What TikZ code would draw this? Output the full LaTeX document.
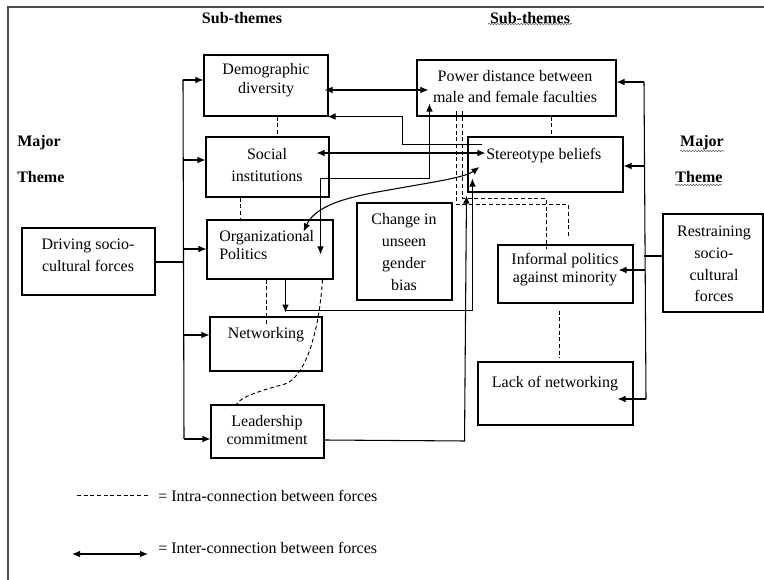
\documentclass[tikz,border=0pt]{standalone}
\usepackage{fontspec}
\setmainfont{Liberation Serif}
\usetikzlibrary{arrows.meta,fit,calc,decorations.pathmorphing}
\begin{document}
\begin{tikzpicture}[x=0.75pt,y=-0.75pt,
  box/.style={draw,line width=0.8pt,inner sep=0pt},
  txt/.style={align=center,inner sep=0pt,font=\fontsize{12pt}{14pt}\selectfont},
  head/.style={inner sep=0pt,font=\fontsize{12pt}{14pt}\selectfont\bfseries},
  conn/.style={line width=0.8pt},
  arr/.style={conn,-{Latex[length=6pt,width=5pt]}},
  darr/.style={conn,{Latex[length=6pt,width=5pt]}-{Latex[length=6pt,width=5pt]}},
  intra/.style={line width=0.7pt,dash pattern=on 3pt off 2pt},
  squig/.style={decorate,decoration={snake,amplitude=0.5pt,segment length=2.2pt},line width=0.4pt,gray!70!black}
]
\useasboundingbox (0,0) rectangle (764,580);
\fill[white] (0,0) rectangle (764,580);
% frame
\draw[line width=1pt,gray!60!black] (8,580) -- (8,7) -- (764,7);

% headings
\node[head] (sub1) at (242,18) {Sub-themes};
\node[head] (sub2) at (530,18) {Sub-themes};
\draw[squig] (488,24) -- (572,24);
\node[head,anchor=west] (maj1) at (17,143) {Major};
\node[head,anchor=west] (thm1) at (17,177) {Theme};
\node[head] (maj2) at (702,143) {Major};
\node[head] (thm2) at (699,177) {Theme};
\draw[squig] (680,151) -- (724,151);
\draw[squig] (675,185) -- (722,185);

% boxes
\node[box,fit={(204,55) (328,116)}] (dem) {};
\node[txt,font=\fontsize{12pt}{14.3pt}\selectfont] (demT) at (266,80) {Demographic\\diversity};
\node[box,fit={(206,137) (329,197)}] (soc) {};
\node[txt,font=\fontsize{12pt}{17pt}\selectfont] (socT) at (267,165) {Social\\institutions};
\node[box,fit={(207,220) (333,279)}] (op) {};
\node[txt,align=left,anchor=west,font=\fontsize{12pt}{13pt}\selectfont] (opT) at (219,245) {Organizational\\Politics};
\node[box,fit={(210,317) (322,371)}] (net) {};
\node[txt] (netT) at (266,335) {Networking};
\node[box,fit={(211,405) (324,458)}] (lead) {};
\node[txt,font=\fontsize{12pt}{13.5pt}\selectfont] (leadT) at (267,430) {Leadership\\commitment};
\node[box,fit={(22,228) (155,295)}] (drv) {};
\node[txt,font=\fontsize{12pt}{16.5pt}\selectfont] (drvT) at (88,255) {Driving socio-\\cultural forces};
\node[box,fit={(357,203) (452,300)}] (chg) {};
\node[txt,font=\fontsize{12pt}{16.3pt}\selectfont] (chgT) at (404,252) {Change in\\unseen\\gender\\bias};
\node[box,fit={(417,60) (616,116)}] (pow) {};
\node[txt,font=\fontsize{12pt}{15.75pt}\selectfont] (powT) at (515,87) {Power distance between\\male and female faculties};
\node[box,fit={(468,137) (623,192)}] (ste) {};
\node[txt,anchor=west] (steT) at (486,156) {Stereotype beliefs};
\node[box,fit={(498,245) (633,303)}] (inf) {};
\node[txt,font=\fontsize{12pt}{13.5pt}\selectfont] (infT) at (565,270) {Informal politics\\against minority};
\node[box,fit={(478,362) (633,425)}] (lack) {};
\node[txt] (lackT) at (555,384) {Lack of networking};
\node[box,fit={(663,214) (763,312)}] (res) {};
\node[txt,font=\fontsize{12pt}{16.3pt}\selectfont] (resT) at (714,264) {Restraining\\socio-\\cultural\\forces};

% left trunk
\coordinate (t1) at (183,80);
\coordinate (t2) at (183,160);
\coordinate (t3) at (183,249);
\coordinate (t4) at (184,335);
\coordinate (t5) at (184,439);
\coordinate (tj) at (183,262);
\draw[conn] (t1) -- (t5);
\draw[conn] (drv.east |- tj) -- (tj);
\draw[arr] (t1) -- (dem.west |- t1);
\draw[arr] (t2) -- (soc.west |- t2);
\draw[arr] (t3) -- (op.west |- t3);
\draw[arr] (t4) -- (net.west |- t4);
\draw[arr] (t5) -- (lead.west |- t5);

% right trunk
\coordinate (r1) at (644,82);
\coordinate (r2) at (644,166);
\coordinate (rj) at (644,256);
\coordinate (r3) at (645,270);
\coordinate (r4) at (646,399);
\draw[conn] (r1) -- (r4);
\draw[conn] (res.west |- rj) -- (rj);
\draw[arr] (r1) -- (pow.east |- r1);
\draw[arr] (r2) -- (ste.east |- r2);
\draw[arr] (r3) -- ($(inf.east |- r3)+(-15,0)$);
\draw[arr] (r4) -- ($(lack.east |- r4)+(-16,0)$);

% inter-connections
\draw[darr] ($(dem.east |- pow.west)+(-4,2)$) -- ($(pow.west)+(12,2)$);
\draw[darr] ($(soc.east)+(-13,-14)$) -- ($(ste.west)+(18,-11.5)$);
\draw[arr] ($(ste.north west)+(15,8)$) -| ($(pow.south west)+(-14,0)$) -- ($(dem.south east)+(-1,0)$);
\draw[darr] ($(op.north east)+(-13,35)$) -- ++(0,-76) -| ($(pow.south west)+(13,-13)$);
\coordinate (cm) at (400,188);
\draw[darr] ($(op.north east)+(-30,12)$) .. controls +(14,-30) and +(-40,7) .. (cm) .. controls +(40,-7) and +(-14,10) .. ($(ste.west)+(12,2.5)$);
\coordinate (opb) at ($(op.south west)+(79,0)$);
\draw[arr] (opb) -- ++(0,33);
\draw[arr] ($(opb)+(0,31)$) -| ($(ste.south west)+(5,-14)$);
\draw[arr] ($(lead.east)+(0,8.5)$) -- ++(140,1) -- ($(ste.south west)+(-1,3)$);

% intra-connections
\draw[intra] ($(dem.south west)+(74,0)$) -- ($(soc.north west)+(72,0)$);
\draw[intra] ($(soc.south west)+(35,0)$) -- ($(op.north west)+(34,0)$);
\draw[intra] ($(op.south west)+(60,0)$) -- ($(net.north west)+(57,8)$);
\coordinate (cq) at (285,384);
\draw[intra] ($(op.south east)+(-11,0)$) .. controls +(-4,60) and +(18,-6) .. (cq) .. controls +(-22,6) and +(4,-8) .. ($(lead.north west)+(26,0)$);
\draw[intra] ($(pow.south west)+(135,0)$) -- ($(ste.north west)+(84,0)$);
\draw[intra] ($(pow.south west)+(40,-6)$) -- ++(0,94) -- ++(112,0) -- ++(0,33);
\draw[intra] ($(pow.south west)+(46,-6)$) -- ++(0,88) -- ++(84,0) -- ($(inf.north west)+(49,5)$);
\draw[intra] ($(inf.south west)+(62,7)$) -- ($(lack.north west)+(82,-4)$);

% legend
\coordinate (lg1) at (77,495);
\coordinate (lg2) at (148,495);
\coordinate (lg3) at (72,554);
\coordinate (lg4) at (148,554);
\draw[intra] (lg1) -- (lg2);
\draw[darr] (lg3) -- (lg4);
\node[txt,anchor=west] (lgt1) at (158,496) {= Intra-connection between forces};
\node[txt,anchor=west] (lgt2) at (158,548) {= Inter-connection between forces};
\end{tikzpicture}
\end{document}
